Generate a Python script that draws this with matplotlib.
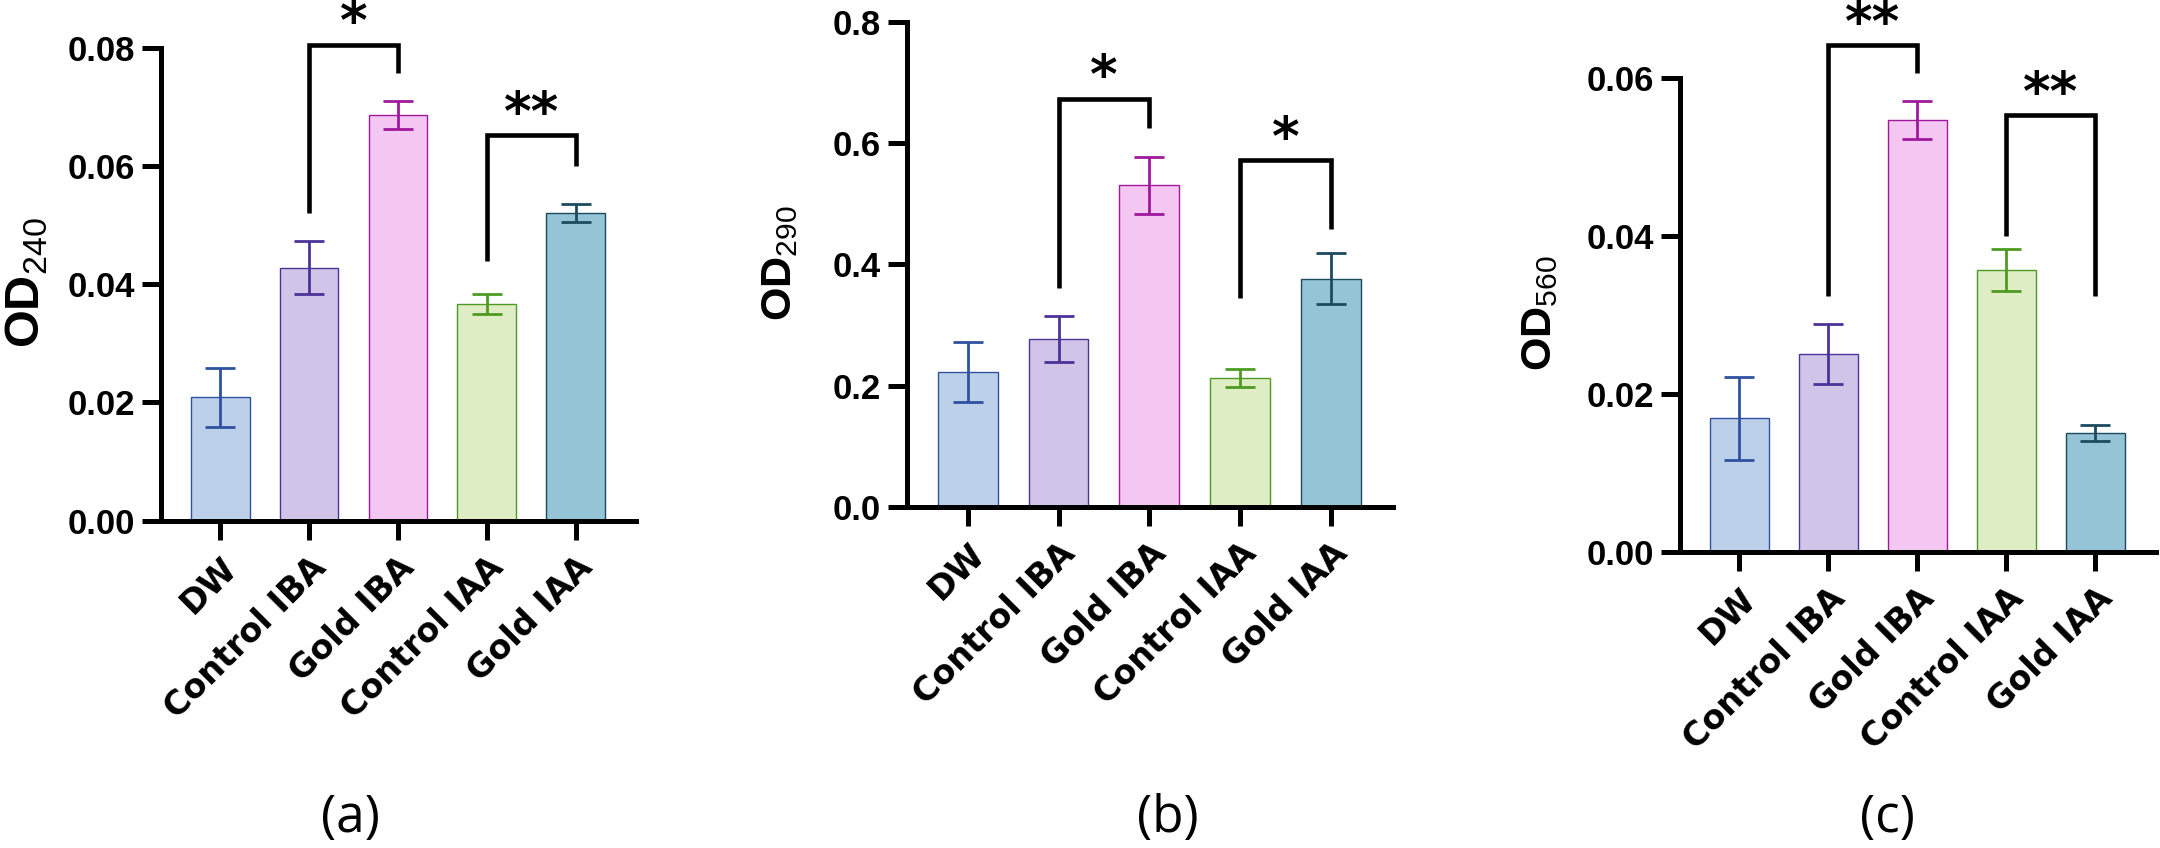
import matplotlib
matplotlib.use("Agg")
import matplotlib.pyplot as plt
import matplotlib.transforms as mtransforms

plt.rcParams['mathtext.fontset'] = 'custom'
plt.rcParams['mathtext.rm'] = 'Liberation Sans'
plt.rcParams['mathtext.bf'] = 'Liberation Sans:bold'

categories = ["DW", "Control IBA", "Gold IBA", "Control IAA", "Gold IAA"]

od240_mean = [0.0209, 0.0428, 0.0686, 0.0366, 0.0521]
od240_err = [0.0050, 0.0045, 0.0024, 0.0017, 0.0015]
od290_mean = [0.222, 0.276, 0.530, 0.213, 0.376]
od290_err = [0.050, 0.038, 0.047, 0.015, 0.042]
od560_mean = [0.0169, 0.0250, 0.0547, 0.0357, 0.0150]
od560_err = [0.0053, 0.0038, 0.0024, 0.0027, 0.0010]

ytick_a = [0.00, 0.02, 0.04, 0.06, 0.08]
ytick_b = [0.0, 0.2, 0.4, 0.6, 0.8]
ytick_c = [0.00, 0.02, 0.04, 0.06]
ylab_a = ["0.00", "0.02", "0.04", "0.06", "0.08"]
ylab_b = ["0.0", "0.2", "0.4", "0.6", "0.8"]
ylab_c = ["0.00", "0.02", "0.04", "0.06"]

# significance brackets: (left index, right index, top, left leg end, right leg end, label)
sig_a = [(1, 2, 0.0805, 0.0521, 0.0757, "*"), (3, 4, 0.0652, 0.0439, 0.0599, "**")]
sig_b = [(1, 2, 0.673, 0.361, 0.624, "*"), (3, 4, 0.571, 0.345, 0.458, "*")]
sig_c = [(1, 2, 0.0642, 0.0324, 0.0607, "**"), (3, 4, 0.0553, 0.0400, 0.0324, "**")]

fill_colors = ["#BDD0EA", "#D0C5E8", "#F4C6F2", "#DEEDC3", "#95C4D6"]
edge_colors = ["#2F52A0", "#4C3399", "#A0189C", "#4F9A22", "#1D4A60"]

W, H = 2160, 848
fig = plt.figure(figsize=(W / 100, H / 100), dpi=100)


def px_axes(l, r, b, t):
    return fig.add_axes([l / W, 1 - b / H, (r - l) / W, (b - t) / H])


def draw(ax, means, errs, yticks, ylabels, sigs):
    x = list(range(len(categories)))
    ax.bar(x, means, width=0.66, color=fill_colors, edgecolor=edge_colors,
           linewidth=1.0, zorder=2)
    for xi, m, e, c in zip(x, means, errs, edge_colors):
        ax.errorbar(xi, m, yerr=e, ecolor=c, elinewidth=2.0, capsize=10.5,
                    capthick=2.0, fmt='none', zorder=3)
    ax.set_xlim(-0.67, 4.68)
    ax.set_ylim(yticks[0], yticks[-1])
    ax.set_yticks(yticks)
    ax.set_yticklabels(ylabels, fontfamily='Liberation Sans', fontweight='bold',
                       fontsize=25)
    ax.set_xticks(x)
    ax.set_xticklabels(categories, rotation=45, ha='right', va='top',
                       rotation_mode='anchor', fontfamily='DejaVu Sans',
                       fontweight='bold', fontsize=24)
    off = mtransforms.ScaledTranslation(16 / 100, 0, fig.dpi_scale_trans)
    for lab in ax.get_xticklabels():
        lab.set_transform(lab.get_transform() + off)
    for s in ['top', 'right']:
        ax.spines[s].set_visible(False)
    for s in ['left', 'bottom']:
        ax.spines[s].set_linewidth(3.6)
        ax.spines[s].set_capstyle('projecting')
    ax.tick_params(axis='both', length=13.5, width=3.6, pad=5)
    ax.tick_params(axis='x', pad=8)
    for i, j, top, lb, rb, lab in sigs:
        ax.plot([i, i, j, j], [lb, top, top, rb], color='black', lw=3.3,
                solid_joinstyle='miter', solid_capstyle='butt', clip_on=False,
                zorder=4)
        ax.annotate(lab, xy=((i + j) / 2, top), xytext=(0, 4),
                    textcoords='offset points', ha='center', va='baseline',
                    fontfamily='DejaVu Sans', fontweight='bold', fontsize=38,
                    annotation_clip=False)


ax_a = px_axes(160.7, 636, 520.8, 47.6)
ax_b = px_axes(906.9, 1392.6, 506.8, 21.6)
ax_c = px_axes(1679.7, 2156, 551.6, 78.4)

draw(ax_a, od240_mean, od240_err, ytick_a, ylab_a, sig_a)
draw(ax_b, od290_mean, od290_err, ytick_b, ylab_b, sig_b)
draw(ax_c, od560_mean, od560_err, ytick_c, ylab_c, sig_c)

fig.text(26 / W, 1 - 283 / H, r'$\mathbf{OD}_{\mathrm{240}}$', rotation=90,
         ha='center', va='center', fontsize=35)
fig.text(779 / W, 1 - 263 / H, r'$\mathbf{OD}_{\mathrm{290}}$', rotation=90,
         ha='center', va='center', fontsize=31)
fig.text(1539 / W, 1 - 313 / H, r'$\mathbf{OD}_{\mathrm{560}}$', rotation=90,
         ha='center', va='center', fontsize=31)

for lab, xp in [("(a)", 350), ("(b)", 1167.6), ("(c)", 1887.6)]:
    fig.text(xp / W, 1 - 818 / H, lab, ha='center', va='center',
             fontfamily='Open Sans', fontsize=37)

fig.savefig("out.png", dpi=100)
